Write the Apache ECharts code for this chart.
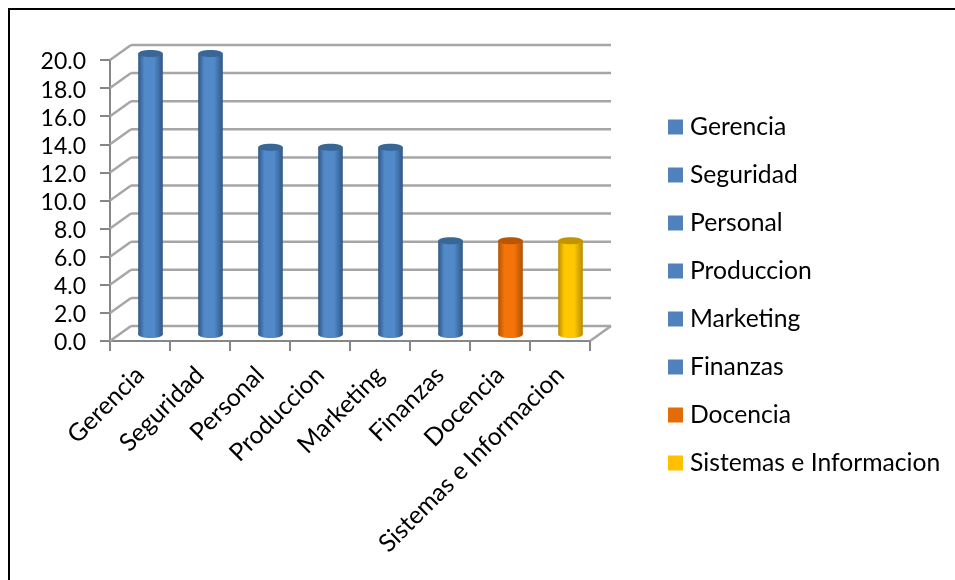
<!DOCTYPE html>
<html><head><meta charset="utf-8">
<style>html,body{margin:0;padding:0;background:#fff}#c{width:955px;height:580px}</style>
<script src="https://cdn.jsdelivr.net/npm/echarts@6/dist/echarts.min.js"></script>
</head><body><div id="c"></div>
<script>
const categories=['Gerencia','Seguridad','Personal','Produccion','Marketing','Finanzas','Docencia','Sistemas e Informacion'];
const values=[20,20,13.33,13.33,13.33,6.67,6.67,6.67];
const legendColors=['#4F81BD','#4F81BD','#4F81BD','#4F81BD','#4F81BD','#4F81BD','#E36C09','#FFC000'];
const barShades=[
 {edge:'#2F5785',mid:'#5289C9',top:'#386796'},
 {edge:'#2F5785',mid:'#5289C9',top:'#386796'},
 {edge:'#2F5785',mid:'#5289C9',top:'#386796'},
 {edge:'#2F5785',mid:'#5289C9',top:'#386796'},
 {edge:'#2F5785',mid:'#5289C9',top:'#386796'},
 {edge:'#2F5785',mid:'#5289C9',top:'#386796'},
 {edge:'#B05204',mid:'#F57409',top:'#B85605'},
 {edge:'#B88C00',mid:'#FFC800',top:'#C29400'}
];
const yTicks=[0,2,4,6,8,10,12,14,16,18,20];
const DX=21,DY=-15,FONT='Lato',FS=24.7,FSY=23;

function wall(params,api){
  const v=api.value(0);
  const a=api.coord([0,v]);
  const left=a[0]-api.size([1,0])[0]/2;
  const right=left+api.size([1,0])[0]*categories.length;
  const st={stroke:'#A6A6A6',lineWidth:2.5,fill:null};
  const ch=[
    {type:'line',shape:{x1:left,y1:a[1],x2:left+DX,y2:a[1]+DY},style:st},
    {type:'line',shape:{x1:left+DX,y1:a[1]+DY,x2:right+DX,y2:a[1]+DY},style:st}
  ];
  if(v===0) ch.push({type:'line',shape:{x1:right,y1:a[1],x2:right+DX,y2:a[1]+DY},style:st});
  return {type:'group',children:ch};
}
function cyl(shade){
  return function(params,api){
    const i=api.value(0),v=api.value(1);
    const top=api.coord([i,v]),base=api.coord([i,0]);
    const w=api.size([1,0])[0]*0.41,cx=top[0]+DX/2,rx=w/2,ry=3.5,sh=DY/2+1;
    const grad={type:'linear',x:0,y:0,x2:1,y2:0,colorStops:[
      {offset:0,color:shade.edge},{offset:.25,color:shade.mid},{offset:.65,color:shade.mid},{offset:1,color:shade.edge}]};
    const yt=top[1]+sh,yb=base[1]+sh;
    return {type:'group',children:[
      {type:'ellipse',shape:{cx:cx,cy:yb,rx:rx,ry:ry},style:{fill:grad}},
      {type:'rect',shape:{x:cx-rx,y:yt,width:w,height:yb-yt},style:{fill:grad}},
      {type:'ellipse',shape:{cx:cx,cy:yt,rx:rx,ry:ry},style:{fill:shade.top}}
    ]};
  };
}
const series=[{type:'custom',silent:true,z:1,renderItem:wall,data:yTicks.map(v=>[v]),encode:{y:0},coordinateSystem:'cartesian2d'}];
categories.forEach((n,i)=>series.push({
  name:n,type:'custom',z:3,renderItem:cyl(barShades[i]),itemStyle:{color:legendColors[i]},
  data:[[i,values[i]]],encode:{x:0,y:1},clip:false}));
const chart=echarts.init(document.getElementById('c'),null,{renderer:'canvas'});
chart.setOption({
  animation:false,backgroundColor:'#fff',
  graphic:[
    {type:'line',z:10,shape:{x1:9,y1:9,x2:955,y2:9},style:{stroke:'#000',lineWidth:2}},
    {type:'line',z:10,shape:{x1:9,y1:8,x2:9,y2:580},style:{stroke:'#000',lineWidth:2}}
  ],
  grid:{left:110,right:365,top:60,bottom:239,containLabel:false},
  xAxis:{type:'category',data:categories,
    axisLine:{show:true,lineStyle:{color:'#868686',width:2}},
    axisTick:{show:true,alignWithLabel:false,length:10,lineStyle:{color:'#868686',width:2}},
    axisLabel:{interval:0,rotate:45,margin:30,color:'#000',fontFamily:FONT,fontSize:FS},
    splitLine:{show:false}},
  yAxis:{type:'value',min:0,max:20,interval:2,
    axisLine:{show:true,lineStyle:{color:'#868686',width:2}},
    axisTick:{show:true,length:10,lineStyle:{color:'#868686',width:2}},
    axisLabel:{margin:24,color:'#000',fontFamily:FONT,fontSize:FSY,verticalAlign:'top',lineHeight:4,formatter:v=>v.toFixed(1)},
    splitLine:{show:false}},
  legend:{orient:'vertical',left:668,top:114,padding:0,itemWidth:15,itemHeight:15,itemGap:22,icon:'rect',
    data:categories,selectedMode:false,
    textStyle:{color:'#000',fontFamily:FONT,fontSize:FS,lineHeight:26,padding:[0,0,0,2]}},
  series
});
</script></body></html>
